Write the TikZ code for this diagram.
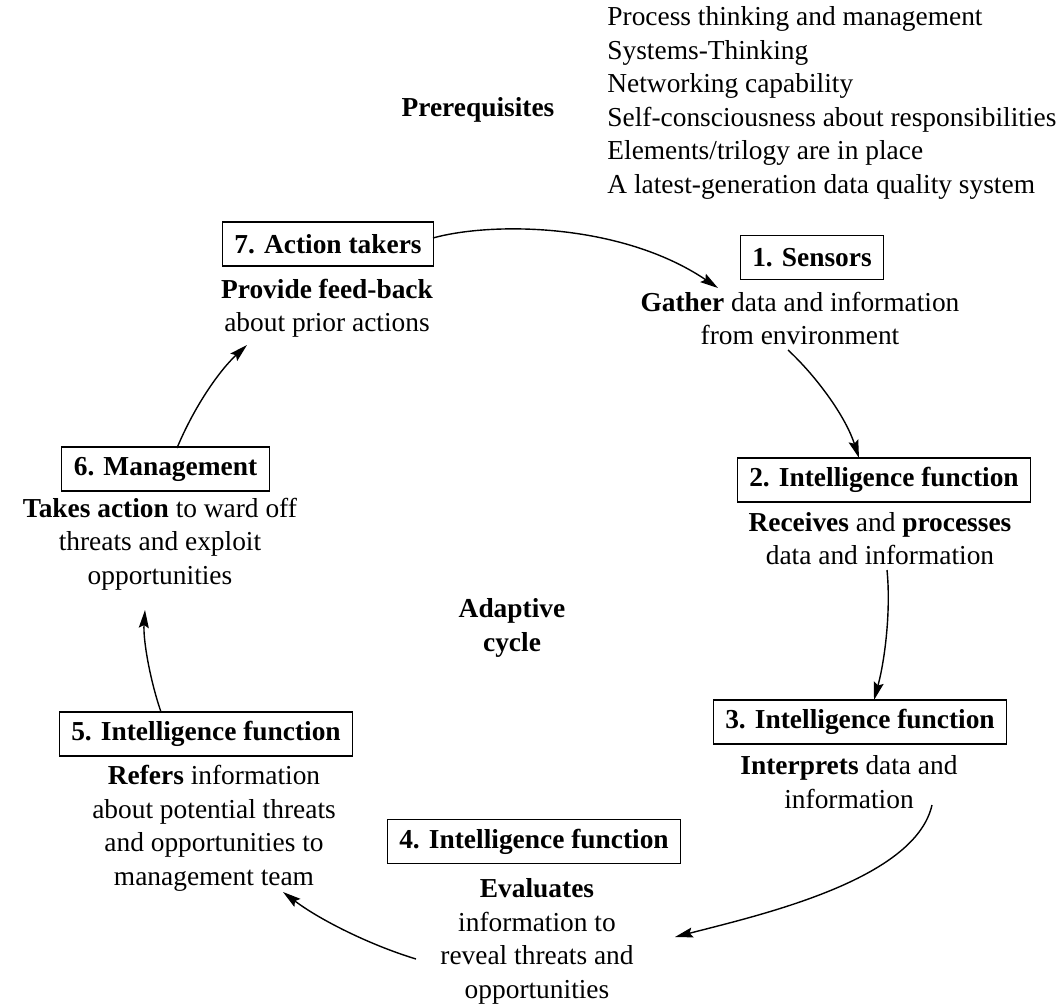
\documentclass[tikz,border=0pt]{standalone}
\usepackage{fontspec}
\setmainfont{Liberation Serif}
\usetikzlibrary{arrows.meta}
\begin{document}
\begin{tikzpicture}[x=0.5pt,y=-0.5pt,
  every node/.style={font=\fontsize{13.7}{16.75}\selectfont},
  stagebox/.style={draw,line width=0.6pt,inner xsep=6pt,minimum height=22pt,font=\fontsize{13.7}{16.75}\selectfont\bfseries},
  desc/.style={align=center,inner sep=0pt},
  arr/.style={line width=0.7pt,-{Stealth[length=9pt,width=5pt,inset=1.5pt]}}]
\useasboundingbox (0,0) rectangle (1061,1006);

% prerequisites
\node[font=\fontsize{13.7}{16.75}\selectfont\bfseries] (pre) at (478,110) {Prerequisites};
\node[align=left,anchor=west,inner sep=0pt] (prelist) at (607,103) {Process thinking and management\\Systems-Thinking\\Networking capability\\Self-consciousness about responsibilities\\Elements/trilogy are in place\\A latest-generation data quality system};

% stages of the cycle
\node[stagebox] (b7) at (328,244) {7. Action takers};
\node[desc] (t7) at (327,308.5) {\textbf{Provide feed-back}\\about prior actions};

\node[stagebox] (b1) at (812,257.5) {1. Sensors};
\node[desc] (t1) at (800,318.5) {\textbf{Gather} data and information\\from environment};

\node[stagebox] (b2) at (884,480) {2. Intelligence function};
\node[desc] (t2) at (880,538.5) {\textbf{Receives} and \textbf{processes}\\data and information};

\node[stagebox] (b3) at (860,722) {3. Intelligence function};
\node[desc] (t3) at (849,782) {\textbf{Interprets} data and\\information};

\node[stagebox] (b4) at (534,841.5) {4. Intelligence function};
\node[desc] (t4) at (537,941.5) {\textbf{Evaluates}\\information to\\reveal threats and\\opportunities};

\node[stagebox] (b5) at (206,734) {5. Intelligence function};
\node[desc] (t5) at (214,828.5) {\textbf{Refers} information\\about potential threats\\and opportunities to\\management team};

\node[stagebox] (b6) at (165.5,469) {6. Management};
\node[desc] (t6) at (160,544) {\textbf{Takes action} to ward off\\threats and exploit\\opportunities};

\node[desc,font=\fontsize{13.7}{16.75}\selectfont\bfseries] (cyc) at (512,628) {Adaptive\\cycle};

% connector end points
\coordinate (s71) at (433,238);  \coordinate (e71) at (718,288);
\coordinate (s12) at (788,350);  \coordinate (e12) at (859,458);
\coordinate (s23) at (887,570);  \coordinate (e23) at (874,700);
\coordinate (s34) at (932,805);  \coordinate (e34) at (675,937);
\coordinate (s45) at (416,959);  \coordinate (e45) at (283,892);
\coordinate (s56) at (161,712);  \coordinate (e56) at (145,610);
\coordinate (s67) at (177,448);  \coordinate (e67) at (247,345);

\draw[arr] (s71) .. controls (490,222) and (620,222) .. (e71);
\draw[arr] (s12) .. controls (815,375) and (845,415) .. (e12);
\draw[arr] (s23) .. controls (891,610) and (885,660) .. (e23);
\draw[arr] (s34) .. controls (915,880) and (760,915) .. (e34);
\draw[arr] (s45) .. controls (370,945) and (320,920) .. (e45);
\draw[arr] (s56) .. controls (150,680) and (143,640) .. (e56);
\draw[arr] (s67) .. controls (195,405) and (220,370) .. (e67);
\end{tikzpicture}
\end{document}
